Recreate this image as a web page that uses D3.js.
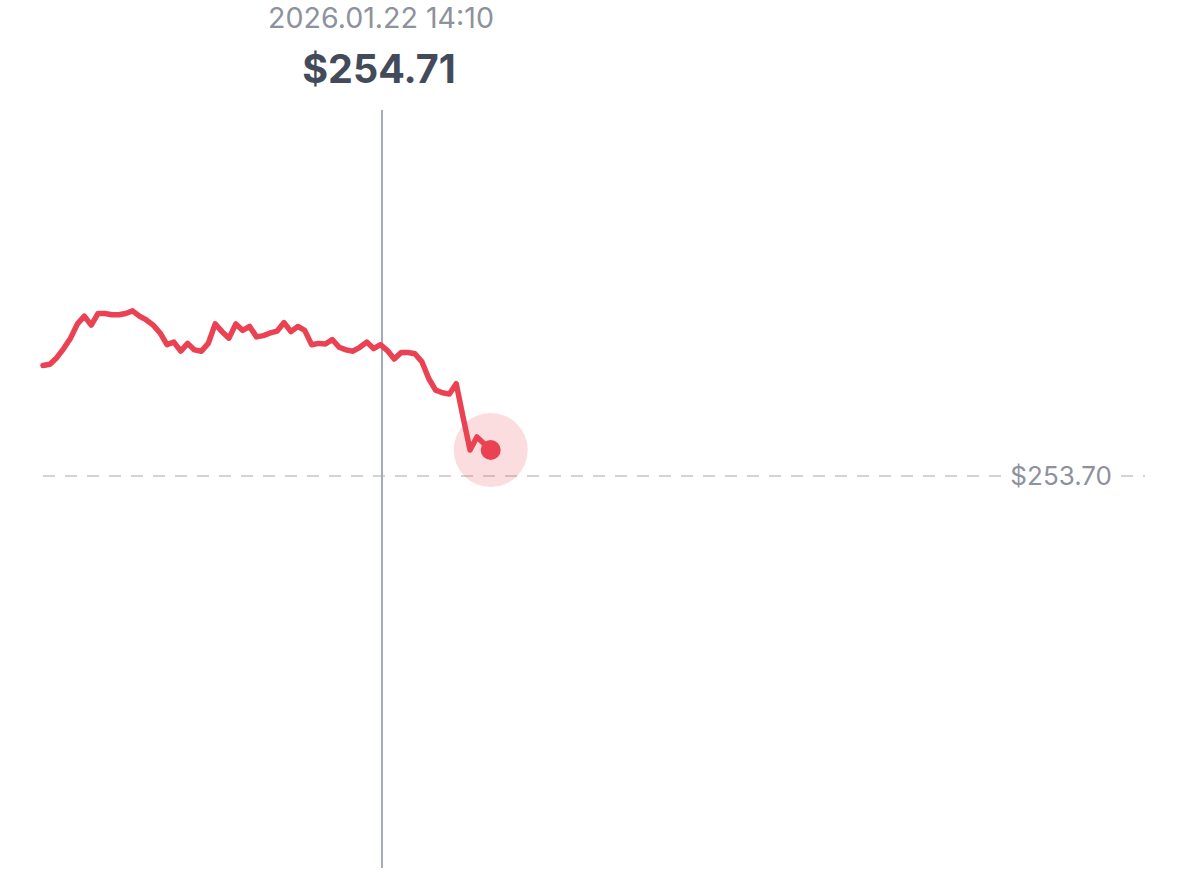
<!DOCTYPE html>
<html>
<head>
<meta charset="utf-8">
<script src="https://cdn.jsdelivr.net/npm/d3@7"></script>
<style>
  html, body { margin: 0; padding: 0; background: #fff; }
  svg { display: block; font-family: Inter, "Noto Sans", sans-serif; }
</style>
</head>
<body>
<svg id="chart" width="1200" height="890"></svg>
<script>
// intraday prices, one per slot (slot = index on the day axis)
let prices = [
  254.55, 254.56, 254.61, 254.68, 254.76, 254.87, 254.93, 254.86, 254.95, 254.95,
  254.94, 254.94, 254.95, 254.97, 254.93, 254.90, 254.86, 254.80, 254.71, 254.73,
  254.66, 254.72, 254.67, 254.66, 254.72, 254.87, 254.81, 254.76, 254.87, 254.82,
  254.85, 254.77, 254.78, 254.80, 254.815, 254.88, 254.81, 254.85, 254.82, 254.71,
  254.72, 254.715, 254.75, 254.69, 254.67, 254.66, 254.69, 254.73, 254.68, 254.71,
  254.665, 254.60, 254.65, 254.65, 254.64, 254.58, 254.45, 254.36, 254.34, 254.33,
  254.41, 254.15, 253.90, 254.00, 253.95, 253.90
];
let totalSlots = 160;          // full session length in slots
let prevClose = 253.70;
let prevCloseLabel = "$253.70";
let hoverSlot = 49;
let hoverTime = "2026.01.22 14:10";
let hoverPrice = "$254.71";

let margins = { top: 110, right: 55, bottom: 22, left: 43 };
let width = 1200 - margins.left - margins.right;
let height = 890 - margins.top - margins.bottom;

let xScale = d3.scaleLinear().domain([0, totalSlots]).range([0, width]);
let yScale = d3.scaleLinear().domain([250.685, 256.515]).range([height, 0]);

let svg = d3.select("#chart");
let graph = svg.append("g")
  .attr("transform", "translate(" + margins.left + "," + margins.top + ")");

// previous close dashed line
graph.append("line")
  .attr("x1", 0)
  .attr("x2", width)
  .attr("y1", yScale(prevClose))
  .attr("y2", yScale(prevClose))
  .style("stroke", "#d3d3d6")
  .style("stroke-width", 2)
  .style("stroke-dasharray", "12,10");

let label = graph.append("text")
  .attr("x", width - 33)
  .attr("y", yScale(prevClose))
  .attr("dy", "0.35em")
  .attr("text-anchor", "end")
  .style("font-size", "26px")
  .style("fill", "#8d929c")
  .text(prevCloseLabel);
let bb = label.node().getBBox();
graph.insert("rect", "text")
  .attr("x", bb.x - 4)
  .attr("y", bb.y)
  .attr("width", bb.width + 8)
  .attr("height", bb.height)
  .style("fill", "#fff");

// crosshair
let hx = xScale(hoverSlot) + 1.5;
graph.append("line")
  .attr("x1", hx).attr("x2", hx)
  .attr("y1", 0).attr("y2", height)
  .style("stroke", "#a4aab7")
  .style("stroke-width", 2);

let line = d3.line()
  .x(function(d, i) { return xScale(i); })
  .y(function(d) { return yScale(d); });

graph.append("path")
  .attr("d", line(prices))
  .style("fill", "none")
  .style("stroke", "#ea4253")
  .style("stroke-width", 5.5)
  .style("stroke-linejoin", "round")
  .style("stroke-linecap", "round");

// last point marker
let last = prices.length - 1;
graph.append("circle")
  .attr("cx", xScale(last))
  .attr("cy", yScale(prices[last]))
  .attr("r", 37)
  .style("fill", "#ea4253")
  .style("fill-opacity", 0.18);
graph.append("circle")
  .attr("cx", xScale(last))
  .attr("cy", yScale(prices[last]))
  .attr("r", 10)
  .style("fill", "#ea4253");

// header
let tx = margins.left + hx - 1;
svg.append("text")
  .attr("x", tx)
  .attr("y", 28)
  .attr("text-anchor", "middle")
  .style("font-size", "28.6px")
  .style("fill", "#8d929c")
  .text(hoverTime);
svg.append("text")
  .attr("x", tx - 2)
  .attr("y", 83)
  .attr("text-anchor", "middle")
  .style("font-size", "39.5px")
  .style("font-weight", "700")
  .style("fill", "#434b5b")
  .text(hoverPrice);
</script>
</body>
</html>
